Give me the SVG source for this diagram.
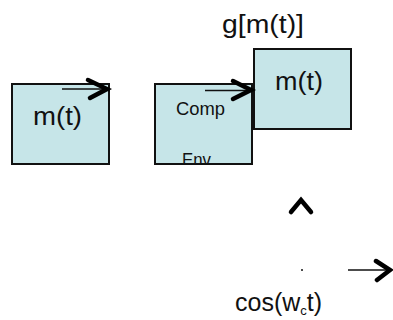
<svg xmlns="http://www.w3.org/2000/svg" width="393" height="320" viewBox="0 0 393 320">
  <style>
    .box { fill: #c6e5e8; stroke: #111; stroke-width: 2; }
    .lbl { font-family: "Liberation Sans", Arial, sans-serif; fill: #111; }
    .big { font-size: 25px; }
    .small { font-size: 18px; }
    .shaft { stroke: #111; stroke-width: 1.6; fill: none; }
    .head { stroke: #000; stroke-width: 4.5; fill: none; stroke-linecap: round; stroke-linejoin: miter; }
  </style>
  <defs>
    <clipPath id="box2-clip">
      <rect x="155" y="84" width="97" height="80"/>
    </clipPath>
  </defs>

  <rect width="393" height="320" fill="#fff"/>

  <g id="input-block">
    <rect class="box" x="12" y="84" width="97" height="80"/>
    <text class="lbl big" x="33" y="125" textLength="49" lengthAdjust="spacingAndGlyphs">m(t)</text>
  </g>

  <g id="compander-block">
    <rect class="box" x="155" y="84" width="97" height="80"/>
    <text class="lbl small" x="176" y="115" textLength="49" lengthAdjust="spacingAndGlyphs">Comp</text>
    <text class="lbl small" x="182" y="166" textLength="29" lengthAdjust="spacingAndGlyphs" clip-path="url(#box2-clip)">Env</text>
  </g>

  <g id="output-block">
    <rect class="box" x="254" y="49" width="97" height="80"/>
    <text class="lbl big" x="275" y="90" textLength="48" lengthAdjust="spacingAndGlyphs">m(t)</text>
  </g>

  <g id="output-label">
    <text class="lbl big" x="222" y="33" textLength="82" lengthAdjust="spacingAndGlyphs">g[m(t)]</text>
  </g>

  <g id="carrier-label">
    <text class="lbl big" x="235" y="311">cos(w<tspan font-size="13" dy="4">c</tspan><tspan dy="-4">t)</tspan></text>
  </g>

  <g id="connectors">
    <line class="shaft" x1="62" y1="89" x2="107" y2="89"/>
    <polyline class="head" points="88,80 107,89 90,98"/>

    <line class="shaft" x1="205" y1="90.5" x2="251" y2="90.5"/>
    <polyline class="head" points="233,81 251,90 233,99"/>

    <polyline class="head" points="291,212 301,200 311,212"/>

    <circle cx="302" cy="270" r="1" fill="#111"/>

    <line class="shaft" x1="348" y1="270" x2="389" y2="270"/>
    <polyline class="head" points="376,261 390,270 377,280"/>
  </g>
</svg>
